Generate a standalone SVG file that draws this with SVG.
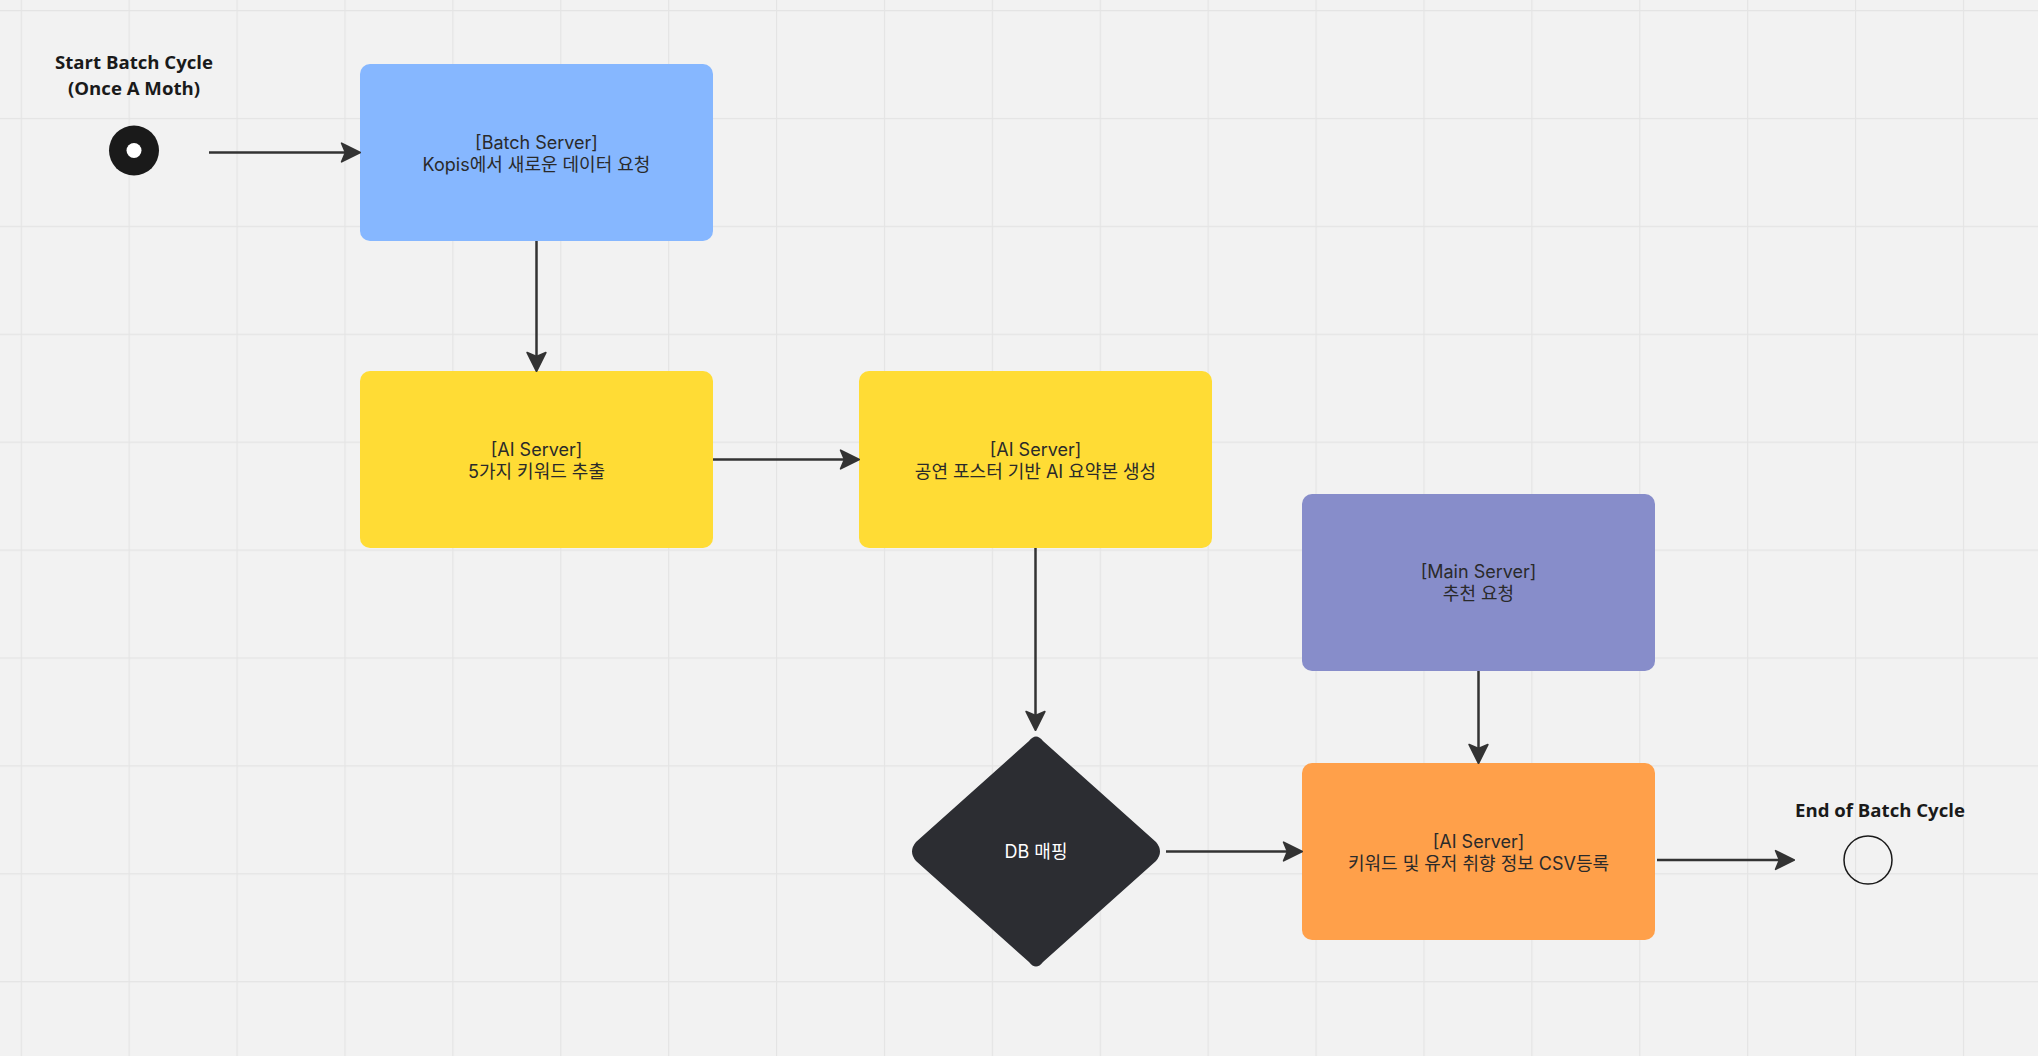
<svg xmlns="http://www.w3.org/2000/svg" width="2038" height="1056" viewBox="0 0 2038 1056">
  <defs>
    <pattern id="grid" x="20.7" y="10" width="107.9" height="107.9" patternUnits="userSpaceOnUse">
      <path d="M0,0 H107.9 M0,0 V107.9" fill="none" stroke="#e4e4e4" stroke-width="2.4"/>
    </pattern>
    <marker id="arrow" markerUnits="userSpaceOnUse" markerWidth="22" markerHeight="22" viewBox="0 0 20 20" refX="16" refY="10" orient="auto">
      <path d="M2,1.5 L19,10 L2,18.5 L5.5,10 Z" fill="#333333" stroke="#333333" stroke-width="1.5" stroke-linejoin="round"/>
    </marker>
    <style>
      .box text { font-family: Inter, "Noto Sans CJK KR", sans-serif; font-size: 18px; fill: #2a2a2a; text-anchor: middle; }
      .label { font-family: "Open Sans", "Noto Sans", sans-serif; font-weight: 700; font-size: 18.6px; fill: #1a1a1a; text-anchor: middle; }
      .conn { stroke: #333333; stroke-width: 2.5; fill: none; marker-end: url(#arrow); }
    </style>
  </defs>
  <rect width="2038" height="1056" fill="#f2f2f2"/>
  <rect width="2038" height="1056" fill="url(#grid)"/>

  <g id="start">
    <text class="label" x="134" y="69">Start Batch Cycle</text>
    <text class="label" x="134" y="95">(Once A Moth)</text>
    <circle cx="134" cy="150.5" r="25" fill="#1a1a1a"/>
    <circle cx="134" cy="150.5" r="7.5" fill="#ffffff"/>
  </g>

  <g id="batch-server" class="box">
    <rect x="360" y="64" width="353" height="177" rx="10" fill="#86b7ff"/>
    <text x="536.5" y="149">[Batch Server]</text>
    <text x="536.5" y="171">Kopis에서 새로운 데이터 요청</text>
  </g>

  <g id="ai-keyword" class="box">
    <rect x="360" y="371" width="353" height="177" rx="10" fill="#ffdc35"/>
    <text x="536.5" y="455.5">[AI Server]</text>
    <text x="536.5" y="477.5">5가지 키워드 추출</text>
  </g>

  <g id="ai-summary" class="box">
    <rect x="859" y="371" width="353" height="177" rx="10" fill="#ffdc35"/>
    <text x="1035.5" y="455.5">[AI Server]</text>
    <text x="1035.5" y="477.5">공연 포스터 기반 AI 요약본 생성</text>
  </g>

  <g id="main-server" class="box">
    <rect x="1302" y="494" width="353" height="177" rx="10" fill="#878dca"/>
    <text x="1478.5" y="578">[Main Server]</text>
    <text x="1478.5" y="600">추천 요청</text>
  </g>

  <g id="db-mapping" class="box">
    <path d="M1029,741 Q1036,732 1043,741 L1156,842 Q1164,851.5 1156,861 L1043,962 Q1036,971 1029,962 L916,861 Q908,851.5 916,842 Z" fill="#2c2d32"/>
    <text x="1036" y="858" style="fill:#ffffff">DB 매핑</text>
  </g>

  <g id="ai-csv" class="box">
    <rect x="1302" y="763" width="353" height="177" rx="10" fill="#ffa04a"/>
    <text x="1478.5" y="848">[AI Server]</text>
    <text x="1478.5" y="870">키워드 및 유저 취향 정보 CSV등록</text>
  </g>

  <g id="end">
    <text class="label" x="1880" y="817">End of Batch Cycle</text>
    <circle cx="1868" cy="860" r="24" fill="none" stroke="#1a1a1a" stroke-width="1.5"/>
  </g>

  <g id="connectors">
    <line class="conn" x1="209" y1="152.5" x2="357" y2="152.5"/>
    <line class="conn" x1="536.5" y1="241" x2="536.5" y2="368"/>
    <line class="conn" x1="713" y1="459.5" x2="856" y2="459.5"/>
    <line class="conn" x1="1035.5" y1="548" x2="1035.5" y2="727"/>
    <line class="conn" x1="1478.5" y1="671" x2="1478.5" y2="760"/>
    <line class="conn" x1="1166" y1="851.5" x2="1299" y2="851.5"/>
    <line class="conn" x1="1657" y1="860" x2="1791" y2="860"/>
  </g>
</svg>
